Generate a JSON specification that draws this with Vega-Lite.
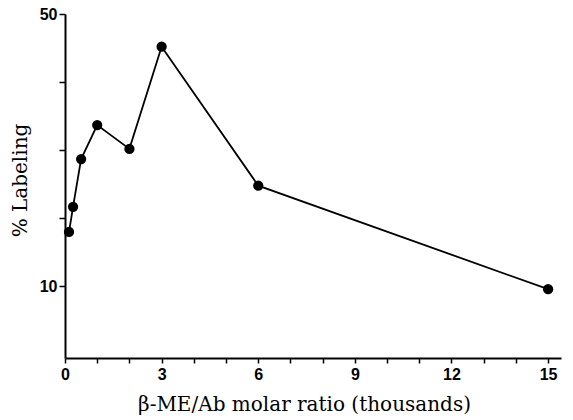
{
  "$schema": "https://vega.github.io/schema/vega-lite/v6.json",
  "width": 496,
  "height": 344,
  "autosize": {"type": "none"},
  "padding": {"left": 65, "top": 14, "right": 12, "bottom": 62},
  "background": "white",
  "config": {"view": {"stroke": null}},
  "data": {
    "values": [
      {"ratio": 0.125, "labeling": 18.0},
      {"ratio": 0.25, "labeling": 21.7},
      {"ratio": 0.5, "labeling": 28.7},
      {"ratio": 1, "labeling": 33.7},
      {"ratio": 2, "labeling": 30.2},
      {"ratio": 3, "labeling": 45.2},
      {"ratio": 6, "labeling": 24.8},
      {"ratio": 15, "labeling": 9.6}
    ]
  },
  "encoding": {
    "x": {
      "field": "ratio",
      "type": "quantitative",
      "scale": {"domain": [0, 15.4], "nice": false, "zero": false},
      "axis": {
        "values": [0,1,2,3,4,5,6,7,8,9,10,11,12,13,14,15],
        "labelExpr": "datum.value % 3 == 0 ? datum.label : ''",
        "grid": false,
        "domainColor": "black",
        "domainWidth": 2,
        "tickColor": "black",
        "tickWidth": 1.5,
        "tickSize": 5,
        "labelFont": "Liberation Sans",
        "labelFontWeight": "bold",
        "labelFontSize": 16,
        "labelColor": "black",
        "labelPadding": 3,
        "labelFlush": false,
        "title": "β-ME/Ab molar ratio (thousands)",
        "titleFont": "DejaVu Serif",
        "titleFontWeight": "normal",
        "titleFontSize": 20,
        "titleColor": "black",
        "titleX": 239,
        "titleY": 52,
        "titleAlign": "center",
        "titleBaseline": "alphabetic"
      }
    },
    "y": {
      "field": "labeling",
      "type": "quantitative",
      "scale": {"domain": [-0.5, 50], "nice": false, "zero": false},
      "axis": {
        "values": [10, 20, 30, 40, 50],
        "labelExpr": "datum.value == 10 || datum.value == 50 ? datum.label : ''",
        "grid": false,
        "domainColor": "black",
        "domainWidth": 2,
        "tickColor": "black",
        "tickWidth": 1.5,
        "tickSize": 6,
        "labelFont": "Liberation Sans",
        "labelFontWeight": "bold",
        "labelFontSize": 16,
        "labelColor": "black",
        "labelPadding": 2,
        "labelFlush": false,
        "title": "% Labeling",
        "titleFont": "DejaVu Serif",
        "titleFontWeight": "normal",
        "titleFontSize": 20,
        "titleColor": "black",
        "titleAngle": -90,
        "titleX": -45,
        "titleY": 166,
        "titleAlign": "center",
        "titleBaseline": "middle"
      }
    }
  },
  "layer": [
    {"mark": {"type": "line", "color": "black", "strokeWidth": 1.8}},
    {"mark": {"type": "point", "filled": true, "color": "black", "opacity": 1, "size": 105}}
  ]
}
